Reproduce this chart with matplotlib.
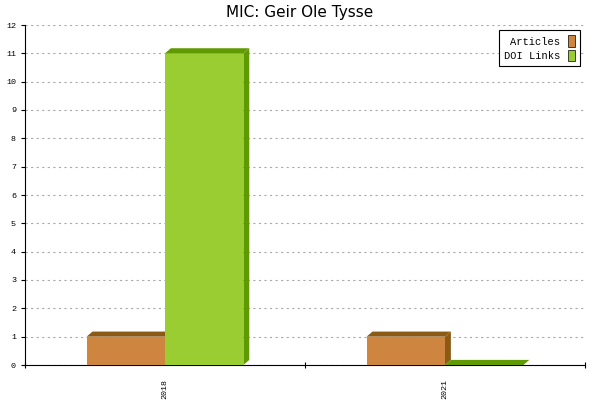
import matplotlib
matplotlib.use("Agg")
import matplotlib.pyplot as plt
from matplotlib.patches import Polygon, Patch

categories = ["2018", "2021"]
articles = [1, 1]
doi_links = [11, 0]
series = [("Articles", articles, "#CD853F", "#8B5A14"), ("DOI Links", doi_links, "#9ACD32", "#5E9A00")]

fig = plt.figure(figsize=(6, 4), dpi=100)
ax = fig.add_axes([25/600, 35/400, 560/600, 340/400])
ax.set_xlim(0, len(categories))
ax.set_ylim(0, 12)
w = 0.28
dx, dy = 0.021, 0.18
for i, c in enumerate(categories):
    center = i + 0.5
    for j, (name, vals, fc, dc) in enumerate(series):
        x0 = center - w + j * w
        v = vals[i]
        ax.add_patch(Polygon([(x0, 0), (x0 + w, 0), (x0 + w, v), (x0, v)], closed=True, fc=fc, ec="none", zorder=3))
        ax.add_patch(Polygon([(x0, v), (x0 + w, v), (x0 + w + dx, v + dy), (x0 + dx, v + dy)], closed=True, fc=dc, ec="none", zorder=3))
        ax.add_patch(Polygon([(x0 + w, 0), (x0 + w + dx, dy), (x0 + w + dx, v + dy), (x0 + w, v)], closed=True, fc=dc, ec="none", zorder=3))

ax.set_yticks(range(0, 13))
ax.set_xticks([0, 1, 2])
ax.set_xticklabels([])
ax.set_xticks([0.5, 1.5], minor=True)
ax.set_xticklabels(categories, minor=True, rotation=90, fontsize=6, family="Liberation Mono")
ax.tick_params(axis="x", which="minor", length=0, pad=10)
ax.tick_params(axis="x", which="major", length=5, direction="inout")
ax.tick_params(axis="y", labelsize=6, length=3)
for t in ax.get_yticklabels():
    t.set_family("Liberation Mono")
ax.yaxis.grid(True, linestyle=(0, (2, 3)), color="#aaaaaa", linewidth=0.8, zorder=0)
ax.set_axisbelow(True)
for s in ["top", "right"]:
    ax.spines[s].set_visible(False)
fig.text(0.5, 0.97, "MIC: Geir Ole Tysse", ha="center", va="center", fontsize=11)

handles = [Patch(fc=s[2], ec="black", lw=0.5) for s in series]
leg = ax.legend(handles, [s[0] for s in series], loc="upper right", prop={"family": "Liberation Mono", "size": 7.5},
                fancybox=False, edgecolor="black", framealpha=1, markerfirst=False,
                handlelength=0.6, handleheight=1.3, borderpad=0.5, labelspacing=0.3)
leg.get_frame().set_linewidth(0.8)
fig.savefig("out.png", dpi=100)
